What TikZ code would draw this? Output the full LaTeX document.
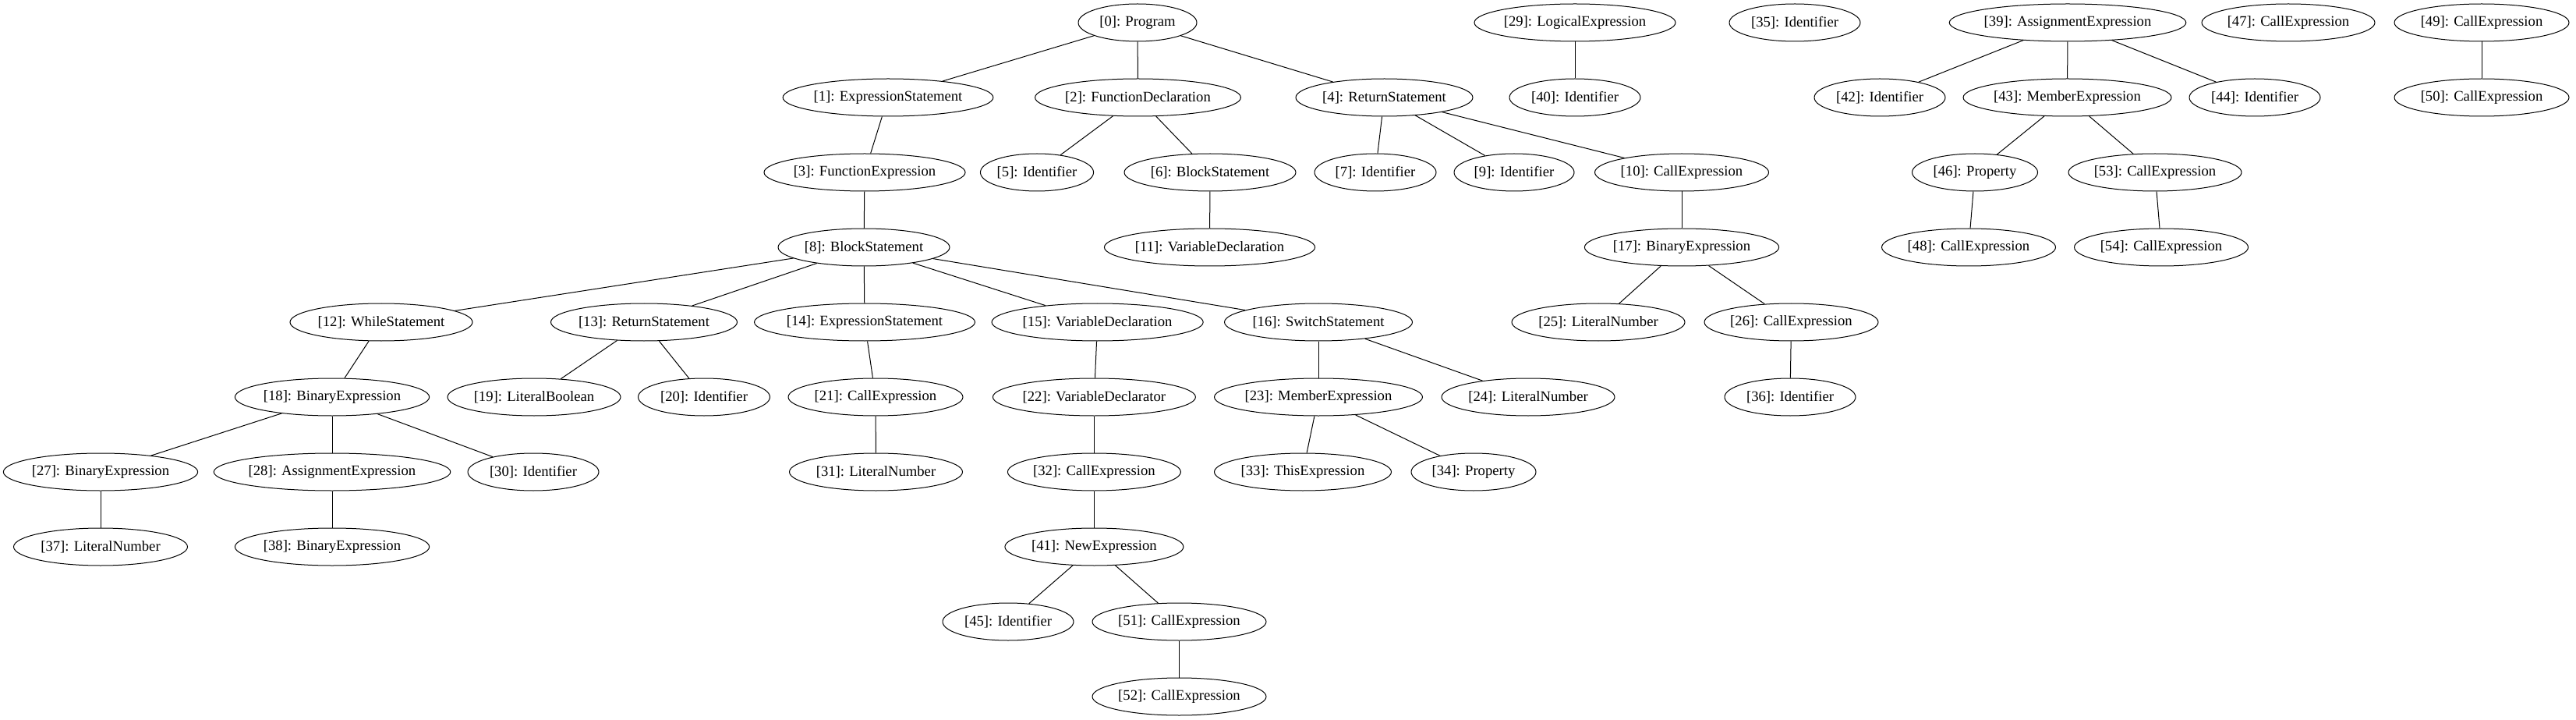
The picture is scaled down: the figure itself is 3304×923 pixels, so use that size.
\documentclass[tikz,border=0pt]{standalone}
\usepackage{fontspec}
\setmainfont{Liberation Serif}
\usetikzlibrary{shapes.geometric}
\begin{document}
\begin{tikzpicture}[x=0.75pt,y=-0.75pt,
  nd/.style={draw, ellipse, minimum height=36pt, inner sep=0pt, line width=0.75pt, font=\fontsize{14}{16}\selectfont},
  ed/.style={line width=0.75pt}]
\useasboundingbox (0,0) rectangle (3304,923);
% row 0
\node[nd, minimum width=114pt] (n0) at (1459,29) {[0]: Program};
\node[nd, minimum width=192.75pt] (n29) at (2020,29) {[29]: LogicalExpression};
\node[nd, minimum width=126pt] (n35) at (2302,29) {[35]: Identifier};
\node[nd, minimum width=222.75pt] (n39) at (2652,29) {[39]: AssignmentExpression};
\node[nd, minimum width=166.5pt] (n47) at (2935,29) {[47]: CallExpression};
\node[nd, minimum width=168pt] (n49) at (3183,29) {[49]: CallExpression};
% row 1
\node[nd, minimum width=201.75pt] (n1) at (1139,125) {[1]: ExpressionStatement};
\node[nd, minimum width=196.5pt] (n2) at (1459.5,125) {[2]: FunctionDeclaration};
\node[nd, minimum width=170.25pt] (n4) at (1775.5,125) {[4]: ReturnStatement};
\node[nd, minimum width=126pt] (n40) at (2020,125) {[40]: Identifier};
\node[nd, minimum width=126pt] (n42) at (2411,125) {[42]: Identifier};
\node[nd, minimum width=200.25pt] (n43) at (2651.5,125) {[43]: MemberExpression};
\node[nd, minimum width=126pt] (n44) at (2892,125) {[44]: Identifier};
\node[nd, minimum width=168pt] (n50) at (3183,125) {[50]: CallExpression};
% row 2
\node[nd, minimum width=193.5pt] (n3) at (1109,221) {[3]: FunctionExpression};
\node[nd, minimum width=102pt] (n5) at (1330,221) {[5]: Identifier};
\node[nd, minimum width=165pt] (n6) at (1552,221) {[6]: BlockStatement};
\node[nd, minimum width=117pt] (n7) at (1764,221) {[7]: Identifier};
\node[nd, minimum width=115.5pt] (n9) at (1942,221) {[9]: Identifier};
\node[nd, minimum width=167.25pt] (n10) at (2157,221) {[10]: CallExpression};
\node[nd, minimum width=120.75pt] (n46) at (2533,221) {[46]: Property};
\node[nd, minimum width=166.5pt] (n53) at (2764,221) {[53]: CallExpression};
% row 3
\node[nd, minimum width=165pt] (n8) at (1108,317) {[8]: BlockStatement};
\node[nd, minimum width=202.5pt] (n11) at (1551.5,317) {[11]: VariableDeclaration};
\node[nd, minimum width=184.5pt] (n17) at (2157,317) {[17]: BinaryExpression};
\node[nd, minimum width=167.25pt] (n48) at (2525,317) {[48]: CallExpression};
\node[nd, minimum width=167.25pt] (n54) at (2772,317) {[54]: CallExpression};
% row 4
\node[nd, minimum width=175.5pt] (n12) at (489,413) {[12]: WhileStatement};
\node[nd, minimum width=179.25pt] (n13) at (826,413) {[13]: ReturnStatement};
\node[nd, minimum width=210pt] (n14) at (1109,413) {[14]: ExpressionStatement};
\node[nd, minimum width=202.5pt] (n15) at (1407.6,413) {[15]: VariableDeclaration};
\node[nd, minimum width=180.75pt] (n16) at (1691,413) {[16]: SwitchStatement};
\node[nd, minimum width=166.5pt] (n25) at (2050,413) {[25]: LiteralNumber};
\node[nd, minimum width=167.25pt] (n26) at (2297.5,413) {[26]: CallExpression};
% row 5
\node[nd, minimum width=186pt] (n18) at (426,509) {[18]: BinaryExpression};
\node[nd, minimum width=166.5pt] (n19) at (685,509) {[19]: LiteralBoolean};
\node[nd, minimum width=126.75pt] (n20) at (903,509) {[20]: Identifier};
\node[nd, minimum width=168pt] (n21) at (1123,509) {[21]: CallExpression};
\node[nd, minimum width=195pt] (n22) at (1403.4,509) {[22]: VariableDeclarator};
\node[nd, minimum width=200.25pt] (n23) at (1691,509) {[23]: MemberExpression};
\node[nd, minimum width=166.5pt] (n24) at (1960,509) {[24]: LiteralNumber};
\node[nd, minimum width=126pt] (n36) at (2296,509) {[36]: Identifier};
% row 6
\node[nd, minimum width=186pt] (n27) at (129,605) {[27]: BinaryExpression};
\node[nd, minimum width=223.5pt] (n28) at (426,605) {[28]: AssignmentExpression};
\node[nd, minimum width=126pt] (n30) at (684,605) {[30]: Identifier};
\node[nd, minimum width=166.5pt] (n31) at (1123.5,605) {[31]: LiteralNumber};
\node[nd, minimum width=166.5pt] (n32) at (1403.4,605) {[32]: CallExpression};
\node[nd, minimum width=170.25pt] (n33) at (1671,605) {[33]: ThisExpression};
\node[nd, minimum width=120pt] (n34) at (1890,605) {[34]: Property};
% row 7
\node[nd, minimum width=167.25pt] (n37) at (129,701) {[37]: LiteralNumber};
\node[nd, minimum width=186pt] (n38) at (426,701) {[38]: BinaryExpression};
\node[nd, minimum width=171.75pt] (n41) at (1403.4,701) {[41]: NewExpression};
% row 8
\node[nd, minimum width=126pt] (n45) at (1293,797) {[45]: Identifier};
\node[nd, minimum width=167.25pt] (n51) at (1512.5,797) {[51]: CallExpression};
% row 9
\node[nd, minimum width=167.25pt] (n52) at (1512.5,893) {[52]: CallExpression};
% edges
\foreach \a/\b in {0/1,0/2,0/4,1/3,2/5,2/6,4/7,4/9,4/10,29/40,39/42,39/43,39/44,49/50,
  3/8,6/11,10/17,43/46,43/53,46/48,53/54,8/12,8/13,8/14,8/15,8/16,17/25,17/26,
  12/18,13/19,13/20,14/21,15/22,16/23,16/24,26/36,18/27,18/28,18/30,21/31,22/32,
  23/33,23/34,27/37,28/38,32/41,41/45,41/51,51/52}
  \draw[ed] (n\a) -- (n\b);
\end{tikzpicture}
\end{document}
